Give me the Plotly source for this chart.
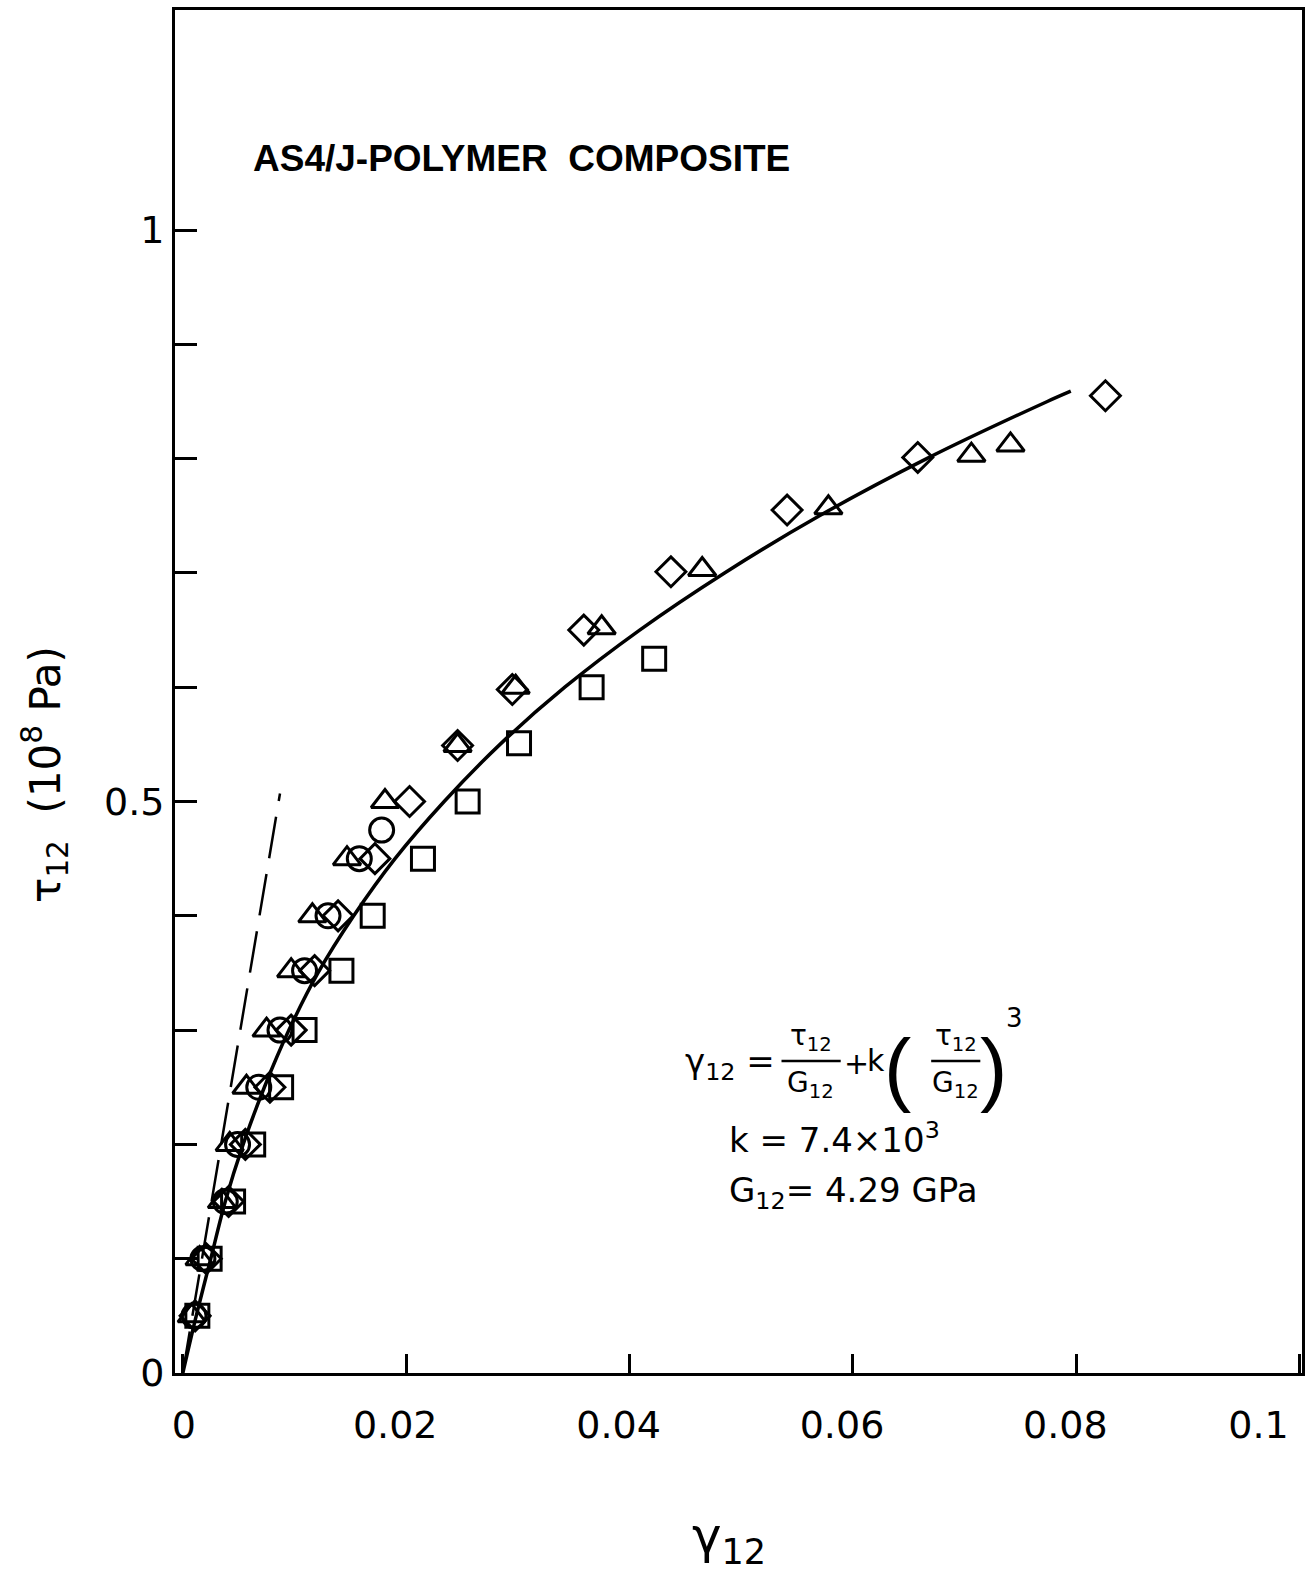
import plotly.graph_objects as go

# ---------------- data ----------------
tri_x = [0.0008, 0.0015, 0.0035, 0.0042, 0.0057, 0.0075, 0.0097, 0.0116, 0.0147, 0.0181,
         0.0246, 0.0298, 0.0375, 0.0465, 0.0578, 0.0706, 0.0741]
tri_y = [0.05, 0.10, 0.15, 0.20, 0.25, 0.30, 0.352, 0.40, 0.45, 0.50,
         0.549, 0.600, 0.652, 0.703, 0.757, 0.803, 0.812]

cir_x = [0.0010, 0.0018, 0.0038, 0.0049, 0.0068, 0.0087, 0.0109, 0.0130, 0.0158, 0.0178]
cir_y = [0.05, 0.10, 0.15, 0.20, 0.25, 0.30, 0.352, 0.40, 0.45, 0.475]

dia_x = [0.0011, 0.0021, 0.0041, 0.0056, 0.0078, 0.0097, 0.0118, 0.0139, 0.0172, 0.0203,
         0.0246, 0.0295, 0.0359, 0.0437, 0.0541, 0.0658, 0.0826]
dia_y = [0.05, 0.10, 0.15, 0.20, 0.25, 0.30, 0.352, 0.40, 0.45, 0.50,
         0.549, 0.598, 0.650, 0.701, 0.755, 0.801, 0.855]

sq_x = [0.0013, 0.0024, 0.0045, 0.0063, 0.0088, 0.0109, 0.0142, 0.0170, 0.0215, 0.0255,
        0.0301, 0.0366, 0.0422]
sq_y = [0.05, 0.10, 0.15, 0.20, 0.25, 0.30, 0.352, 0.40, 0.45, 0.50,
        0.551, 0.600, 0.625]

fit_x = [0.0, 0.0012, 0.0025, 0.0038, 0.0054, 0.0073, 0.0095, 0.0121, 0.0153, 0.0190,
         0.0234, 0.0284, 0.0342, 0.0409, 0.0485, 0.0570, 0.0666, 0.0774, 0.0795]
fit_y = [0.0, 0.05, 0.10, 0.15, 0.20, 0.25, 0.30, 0.35, 0.40, 0.45,
         0.50, 0.55, 0.60, 0.65, 0.70, 0.75, 0.80, 0.85, 0.859]

lin_x = [0.0, 0.0087]
lin_y = [0.0, 0.507]

x_ticks = [0, 0.02, 0.04, 0.06, 0.08, 0.1]
x_labels = ["\u00a0\u00a00", "0.02", "0.04", "0.06", "0.08", "0.1\u00a0\u00a0\u00a0\u00a0\u00a0"]
y_ticks = [0, 0.1, 0.2, 0.3, 0.4, 0.5, 0.6, 0.7, 0.8, 0.9, 1.0]
y_labels = ["0", "", "", "", "", "0.5", "", "", "", "", "1"]

FONT = "DejaVu Sans"
BLACK = "black"

fig = go.Figure()

fig.add_trace(go.Scatter(x=lin_x, y=lin_y, mode="lines",
                         line=dict(color=BLACK, width=2.5, dash="42px,16px"),
                         showlegend=False, hoverinfo="skip"))
fig.add_trace(go.Scatter(x=fit_x, y=fit_y, mode="lines",
                         line=dict(color=BLACK, width=3.5, shape="spline", smoothing=0.8),
                         showlegend=False))

def add_markers(xs, ys, symbol, size):
    fig.add_trace(go.Scatter(x=xs, y=ys, mode="markers",
                             marker=dict(symbol=symbol, size=size, color=BLACK,
                                         line=dict(color=BLACK, width=3)),
                             showlegend=False))

add_markers(sq_x, sq_y, "square-open", 23)
add_markers(cir_x, cir_y, "circle-open", 24)
add_markers(dia_x, dia_y, "diamond-open", 23)
add_markers(tri_x, tri_y, "triangle-up-open", 24)

annotations = []

def ann(x, y, text, size, xanchor="center", yanchor="middle", xref="x", yref="y",
        angle=0, family=FONT):
    annotations.append(dict(x=x, y=y, xref=xref, yref=yref, text=text, showarrow=False,
                            xanchor=xanchor, yanchor=yanchor, textangle=angle,
                            font=dict(family=family, size=size, color=BLACK)))

# title inside plot
annotations.append(dict(x=0.0061, y=1.063, xref="x", yref="y", text="AS4/J-POLYMER  COMPOSITE",
                        showarrow=False, xanchor="left", yanchor="middle",
                        font=dict(family="Liberation Sans", size=37, color=BLACK, weight="bold")))

# formula
ann(0.0532, 0.271, "γ<sub>12</sub> =", 34, xanchor="right")
ann(0.0562, 0.276, "τ<sub>12</sub>", 28, yanchor="bottom")
ann(0.0562, 0.270, "G<sub>12</sub>", 28, yanchor="top")
ann(0.0603, 0.271, "+", 30)
ann(0.0621, 0.273, "k", 30)
ann(0.0640, 0.267, "(", 82, family="Liberation Sans")
ann(0.0692, 0.276, "τ<sub>12</sub>", 28, yanchor="bottom")
ann(0.0692, 0.270, "G<sub>12</sub>", 28, yanchor="top")
ann(0.0726, 0.267, ")", 82, family="Liberation Sans")
ann(0.0745, 0.311, "3", 26)
ann(0.0487, 0.2056, "k = 7.4×10<sup>3</sup>", 34, xanchor="left")
ann(0.0487, 0.158, "G<sub>12</sub>= 4.29 GPa", 34, xanchor="left")

# axis titles
ann(-0.1154, 0.4395, "τ<sub>12</sub>  (10<sup>8</sup> Pa)", 42, xref="paper", yref="paper", angle=-90)
ann(0.4916, -0.1225, "γ<sub>12</sub>", 50, xref="paper", yref="paper")

shapes = [
    dict(type="line", xref="x", yref="y", x0=0.0536, x1=0.0589, y0=0.273, y1=0.273,
         line=dict(color=BLACK, width=2.5)),
    dict(type="line", xref="x", yref="y", x0=0.0670, x1=0.0714, y0=0.273, y1=0.273,
         line=dict(color=BLACK, width=2.5)),
]

axis_common = dict(showline=True, linecolor=BLACK, linewidth=3, mirror=True,
                   showgrid=False, zeroline=False, ticks="inside", tickcolor=BLACK,
                   tickwidth=3, automargin=False,
                   tickfont=dict(family=FONT, size=38, color=BLACK))

fig.update_layout(
    width=1308, height=1575, autosize=False,
    margin=dict(l=175, r=6, t=10, b=202, autoexpand=False),
    paper_bgcolor="white", plot_bgcolor="white",
    xaxis=dict(range=[-0.0007, 0.1002], tickvals=x_ticks, ticktext=x_labels, ticklen=19,
               ticklabelstandoff=16, ticklabelshift=-11, ticklabeloverflow="allow",
               **axis_common),
    yaxis=dict(range=[0, 1.1925], tickvals=y_ticks, ticktext=y_labels, ticklen=22,
               ticklabelstandoff=0, **axis_common),
    annotations=annotations, shapes=shapes,
)

fig.write_html("out.html")
